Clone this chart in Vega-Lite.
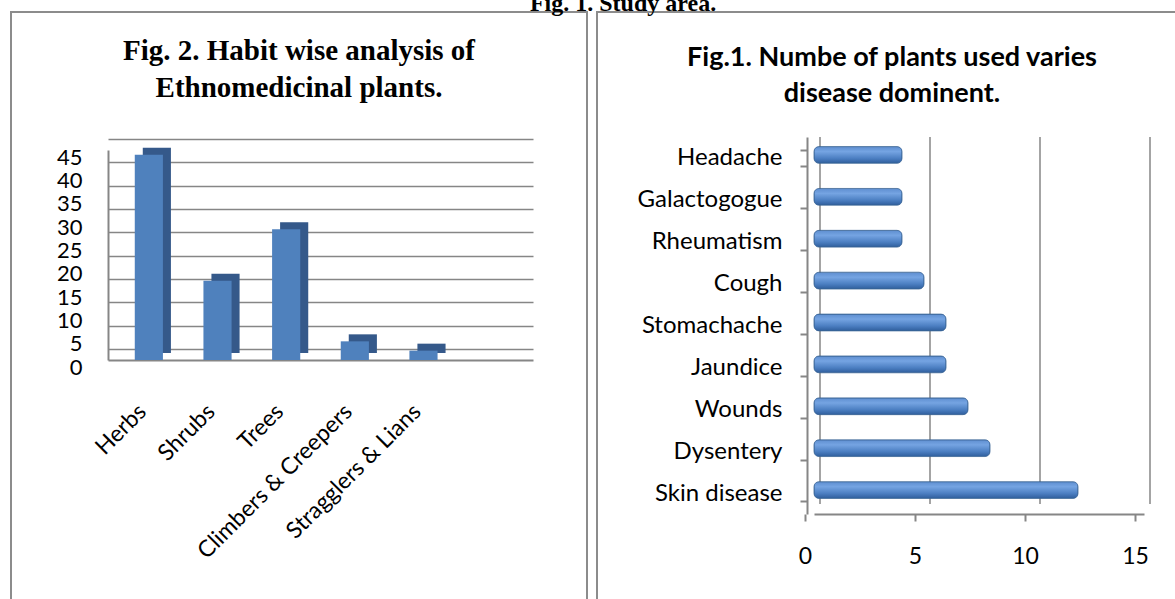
{
  "$schema": "https://vega.github.io/schema/vega-lite/v6.json",
  "background": "white",
  "padding": {"left": 10, "top": -8, "right": 0, "bottom": 0},
  "spacing": 8,
  "title": {"text": "Fig. 1. Study area.", "font": "Liberation Serif", "fontSize": 24, "fontWeight": "bold", "color": "black", "anchor": "middle", "dx": 24, "offset": -17},
  "config": {
    "view": {"stroke": "#8c8c8c", "strokeWidth": 2},
    "axis": {"domainColor": "#868686", "domainWidth": 2, "gridColor": "#868686", "gridWidth": 1.5, "tickColor": "#868686", "tickWidth": 2, "labelColor": "black", "labelFont": "Lato", "title": null}
  },
  "hconcat": [
    {
      "width": 576,
      "height": 590,
      "title": {"text": ["Fig. 2. Habit wise analysis of", "Ethnomedicinal plants."], "font": "Liberation Serif", "fontSize": 29, "fontWeight": "bold", "color": "black", "lineHeight": 37, "baseline": "top", "offset": -91, "anchor": "middle", "frame": "group"},
      "data": {"values": [
        {"habit": "Herbs", "count": 44},
        {"habit": "Shrubs", "count": 17},
        {"habit": "Trees", "count": 28},
        {"habit": "Climbers & Creepers", "count": 4},
        {"habit": "Stragglers & Lians", "count": 2}
      ]},
      "encoding": {
        "x": {"field": "habit", "type": "nominal", "sort": null,
          "scale": {"domain": ["Herbs", "Shrubs", "Trees", "Climbers & Creepers", "Stragglers & Lians", " "], "range": [97, 522], "paddingInner": 0.59, "paddingOuter": 0.39},
          "axis": {"orient": "bottom", "offset": -242, "labelAngle": -45, "labelFontSize": 23, "labelPadding": 40, "labelOffset": -14, "ticks": false, "grid": false, "labelOverlap": false, "labelLimit": 0}},
        "y": {"field": "count", "type": "quantitative",
          "scale": {"domain": [0, 45], "range": [348, 138], "nice": false},
          "axis": {"orient": "left", "offset": -97, "values": [0, 5, 10, 15, 20, 25, 30, 35, 40, 45], "ticks": false, "labelPadding": 26, "tickOffset": -11, "labelOffset": 18, "grid": true, "labelFontSize": 22}}
      },
      "layer": [
        {"mark": {"type": "bar", "color": "#35598A", "xOffset": 8, "yOffset": -7}},
        {"mark": {"type": "bar", "color": "#4F81BD"}}
      ]
    },
    {
      "width": 590,
      "height": 590,
      "title": {"text": ["Fig.1. Numbe of plants used varies", "disease dominent."], "font": "Lato", "fontSize": 27, "fontWeight": "bold", "color": "black", "lineHeight": 36, "baseline": "top", "offset": -108, "anchor": "middle", "frame": "group"},
      "resolve": {"scale": {"y": "independent"}},
      "layer": [
        {
          "data": {"values": [{"g": 0}, {"g": 5}, {"g": 10}, {"g": 15}]},
          "mark": {"type": "rule", "color": "#868686", "strokeWidth": 1.5, "xOffset": 6},
          "encoding": {
            "x": {"field": "g", "type": "quantitative", "scale": {"domain": [0, 15], "range": [217, 547], "nice": false},
              "axis": {"orient": "bottom", "offset": -88, "values": [0, 5, 10, 15], "tickSize": 7, "tickOffset": -9, "labelPadding": 24, "labelFontSize": 23, "labelFlush": false, "grid": false}},
            "y": {"datum": 0, "type": "quantitative", "scale": {"domain": [0, 1], "range": [125, 492], "nice": false, "zero": false}, "axis": null},
            "y2": {"datum": 1}
          }
        },
        {
          "data": {"values": [
            {"disease": "Headache", "plants": 4},
            {"disease": "Galactogogue", "plants": 4},
            {"disease": "Rheumatism", "plants": 4},
            {"disease": "Cough", "plants": 5},
            {"disease": "Stomachache", "plants": 6},
            {"disease": "Jaundice", "plants": 6},
            {"disease": "Wounds", "plants": 7},
            {"disease": "Dysentery", "plants": 8},
            {"disease": "Skin disease", "plants": 12}
          ]},
          "mark": {"type": "bar", "yOffset": -3, "cornerRadius": 5, "stroke": "#3A6496", "strokeWidth": 0.8,
            "color": {"gradient": "linear", "x1": 0, "y1": 0, "x2": 0, "y2": 1, "stops": [
              {"offset": 0, "color": "#5E8ED0"},
              {"offset": 0.3, "color": "#75A4E2"},
              {"offset": 0.7, "color": "#4C7FC2"},
              {"offset": 1, "color": "#2F5E9C"}
            ]}},
          "encoding": {
            "y": {"field": "disease", "type": "nominal", "sort": null,
              "scale": {"range": [125, 502], "paddingInner": 0.6, "paddingOuter": 0.3},
              "axis": {"orient": "left", "offset": -210, "tickBand": "extent", "tickSize": 7, "labelPadding": 18, "labelFontSize": 24, "grid": false}},
            "x": {"field": "plants", "type": "quantitative",
              "scale": {"domain": [0, 15], "range": [217, 547], "nice": false},
              "axis": {"orient": "bottom", "offset": -88, "values": [0, 5, 10, 15], "tickSize": 7, "tickOffset": -9, "labelPadding": 24, "labelFontSize": 23, "labelFlush": false, "grid": false}}
          }
        }
      ]
    }
  ]
}
